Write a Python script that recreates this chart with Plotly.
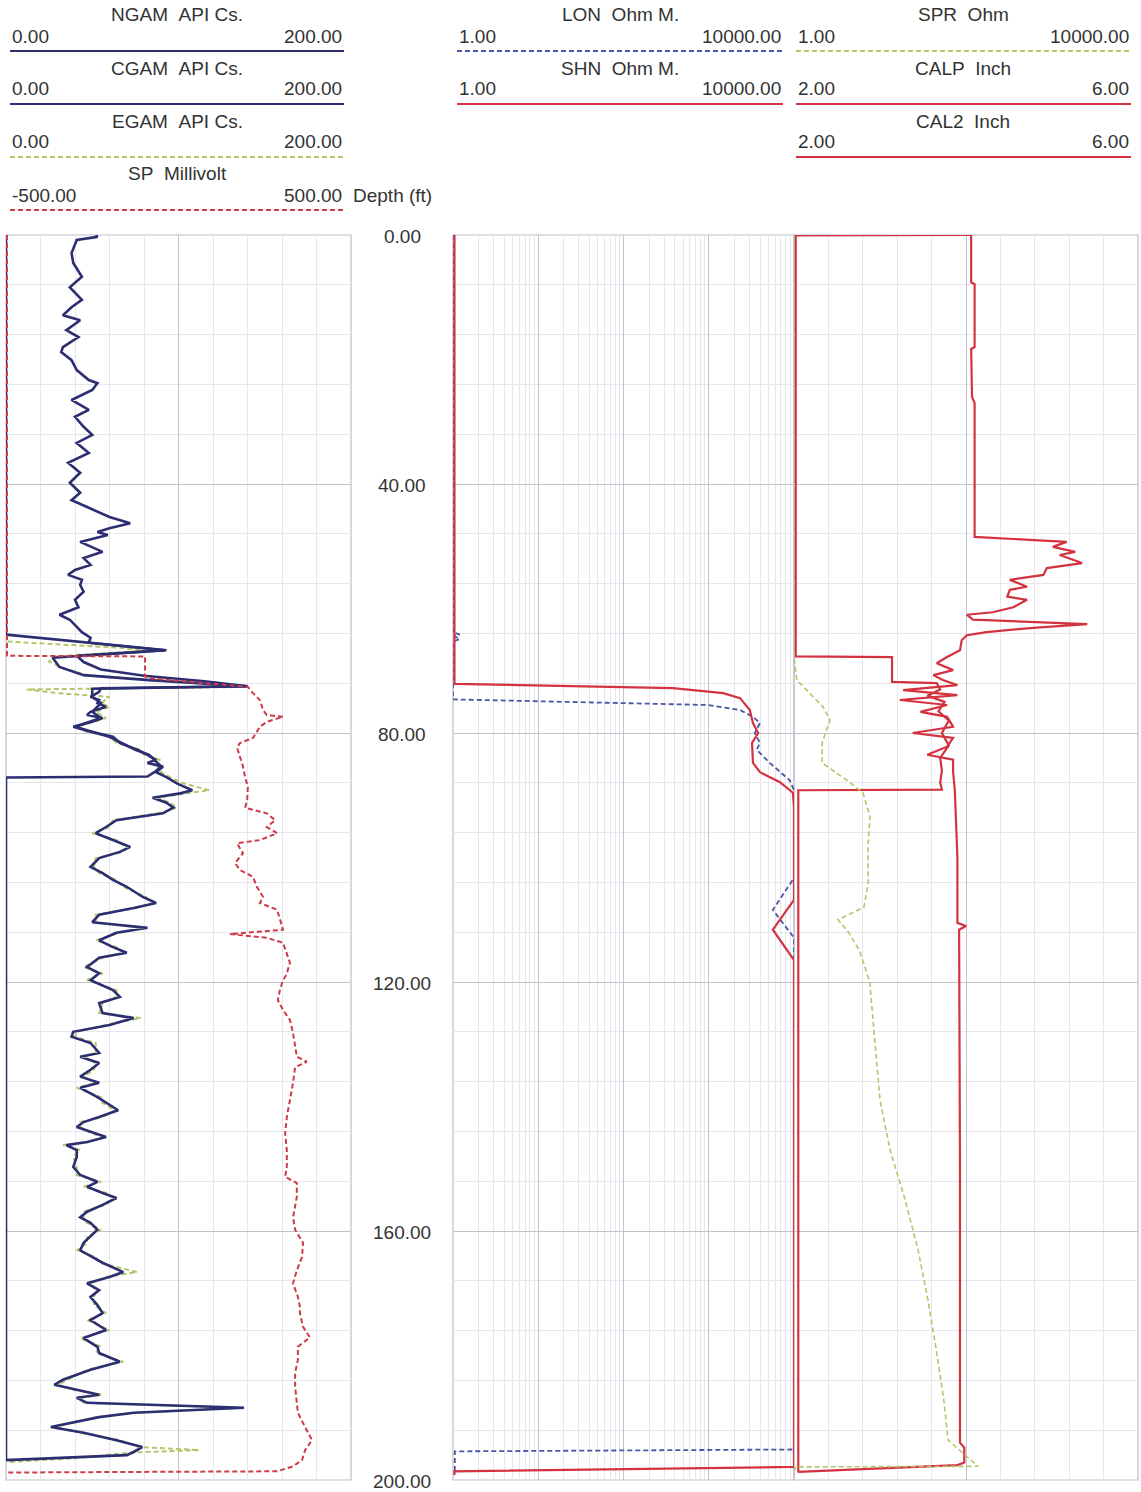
import plotly.graph_objects as go

W, H = 1141, 1492

# ---------------- data (depth ft, value) ----------------
NGAM = [(0.0,52),(0.3,53),(0.8,41),(2.9,38),(4.5,39),(6.7,44),(8.4,37),(10.4,44),(11.6,38),(12.9,33),
        (13.7,43),(15.3,35),(16.4,42),(18.0,33),(18.8,32),(20.1,38),(21.7,41),(23.3,48),(23.8,53),(24.9,50),
        (26.5,38),(28.1,48),(29.2,40),(30.8,45),(32.1,50),(33.4,41),(35.0,48),(36.6,36),(38.2,43),(39.8,37),
        (41.4,43),(42.6,38),(43.7,47),(45.3,60),(46.3,72),(47.1,60),(47.7,53),(48.2,59),(49.3,43),(50.1,50),
        (50.9,56),(51.9,45),(53.0,49),(53.8,40),(54.6,36),(55.4,44),(56.2,43),(57.3,45),(58.6,40),(59.8,42),
        (61.0,31),(61.8,37),(62.7,40),(63.8,44),(64.7,49),(65.5,48),(66.7,92),(67.6,41),(68.6,45),(69.8,55),
        (70.8,80),(71.7,115),(72.5,140),(72.8,55),(73.4,54),(74.2,49),(74.7,54),(75.2,53),(75.8,58),(76.6,49),
        (77.1,47),(77.6,56),(78.2,50),(79.0,39),(79.8,49),(80.6,62),(81.6,66),(82.7,76),(83.5,82),(84.3,87),
        (84.8,82),(85.4,91),(86.3,87),(87.1,93),(88.1,99),(89.2,108),(89.7,101),(90.4,85),(91.2,93),(92.0,97),
        (92.9,91),(94.0,64),(95.1,58),(96.1,52),(97.2,62),(98.3,72),(99.1,66),(100.1,54),(101.5,49),(102.5,56),
        (103.6,62),(104.7,70),(106.3,79),(107.3,87),(108.1,74),(109.2,54),(110.4,50),(111.3,82),(112.1,64),(113.3,54),
        (114.4,62),(115.3,70),(116.1,54),(117.6,47),(118.6,54),(119.7,49),(121.3,62),(122.4,66),(123.4,54),(125.0,56),
        (125.8,74),(126.9,60),(128.0,39),(128.8,38),(129.8,49),(131.4,54),(132.0,43),(133.0,54),(134.1,49),(135.2,43),
        (136.2,54),(137.0,43),(138.5,53),(139.4,58),(140.6,65),(141.7,54),(142.5,45),(143.3,41),(144.1,50),(144.9,58),
        (145.7,47),(146.2,35),(147.0,41),(148.1,41),(149.7,39),(151.0,43),(152.1,53),(152.9,47),(153.9,56),(154.7,64),
        (155.8,56),(156.9,47),(157.8,43),(158.7,49),(159.8,53),(160.9,49),(161.9,45),(163.1,43),(164.2,50),(165.1,56),
        (166.6,68),(167.4,60),(168.4,47),(169.5,54),(170.6,49),(171.9,53),(173.2,56),(174.3,49),(175.9,58),(177.2,45),
        (178.6,53),(179.6,54),(181.0,66),(182.3,49),(183.9,33),(184.7,28),(185.5,41),(186.3,54),(186.8,41),(187.6,47),
        (188.4,138),(189.2,74),(189.9,54),(191.5,26),(192.4,45),(193.6,64),(194.7,79),(195.5,74),(196.0,70),(196.8,0)]

CGAM = [(0.0,0),(64.2,0),(66.7,93),(67.9,27),(69.4,31),(70.7,45),(71.5,83),(72.5,140),(72.9,50),(73.4,50),
        (74.2,50),(75.2,55),(76.6,50),(77.6,55),(79.0,40),(79.8,50),(80.6,60),(81.6,67),(82.7,75),(83.5,83),
        (84.3,86),(85.4,90),(86.3,86),(87.0,82),(87.15,0),(196.8,0)]

EGAM = [(0.0,0),(65.3,0),(66.3,66),(66.8,80),(67.7,28),(68.5,25),(69.6,33),(70.7,47),(71.6,90),(72.6,140),
        (73.0,12),(73.6,30),(74.2,60),(75.2,55),(75.8,60),(76.6,52),(77.6,58),(78.2,50),(79.0,41),(79.8,47),
        (80.6,60),(81.6,64),(82.7,78),(83.5,80),(84.3,89),(85.4,88),(86.3,90),(87.1,95),(88.1,103),(89.2,118),
        (89.7,104),(90.4,88),(91.2,95),(92.0,99),(92.9,88),(94.0,62),(95.1,60),(96.1,50),(97.2,64),(98.3,70),
        (99.1,68),(100.1,52),(101.5,51),(102.5,54),(103.6,64),(104.7,68),(106.3,81),(107.3,85),(108.1,76),(109.2,52),
        (110.4,52),(111.3,80),(112.1,66),(113.3,52),(114.4,64),(115.3,68),(116.1,56),(117.6,45),(118.6,56),(119.7,47),
        (121.3,64),(122.4,64),(123.4,56),(125.0,54),(125.8,78),(126.9,58),(128.0,41),(128.8,40),(129.8,52),(131.4,52),
        (132.0,45),(133.0,52),(134.1,51),(135.2,45),(136.2,52),(137.0,41),(138.5,55),(139.4,56),(140.6,63),(141.7,56),
        (142.5,43),(143.3,43),(144.1,48),(144.9,56),(145.7,49),(146.2,33),(147.0,43),(148.1,39),(149.7,41),(151.0,41),
        (152.1,55),(152.9,45),(153.9,58),(154.7,62),(155.8,58),(156.9,45),(157.8,45),(158.7,47),(159.8,55),(160.9,47),
        (161.9,47),(163.1,41),(164.2,52),(165.1,54),(166.6,76),(167.4,58),(168.4,49),(169.5,52),(170.6,51),(171.9,51),
        (173.2,58),(174.3,47),(175.9,60),(177.2,43),(178.6,55),(179.6,52),(181.0,68),(182.3,47),(183.9,35),(184.7,30),
        (185.5,39),(186.3,56),(186.8,43),(187.6,45),(188.4,136),(189.2,76),(189.9,52),(191.5,28),(192.4,43),(193.6,66),
        (194.7,77),(195.2,112),(195.6,72),(196.5,40),(197.1,2)]

SP = [(0.0,-497),(67.6,-497),(67.7,-97),(70.9,-97),(71.2,-85),(72.6,201),(73.6,216),(74.7,236),(76.3,245),(77.1,256),
      (77.4,303),(78.2,256),(79.0,236),(79.8,227),(80.8,216),(81.6,178),(82.4,170),(83.8,178),(85.4,187),(87.1,193),
      (88.7,201),(90.8,199),(92.0,193),(92.9,256),(94.0,280),(95.1,256),(96.1,286),(97.2,236),(97.7,170),(98.5,178),
      (99.3,187),(100.9,164),(102.0,178),(103.1,216),(104.7,227),(106.3,245),(107.3,236),(108.4,286),(110.0,294),(111.6,303),
      (112.3,149),(112.9,256),(113.7,303),(115.3,314),(116.9,323),(118.6,314),(120.2,300),(121.3,294),(122.9,288),(124.5,303),
      (126.1,323),(128.2,332),(130.4,338),(132.0,343),(132.8,372),(133.7,338),(136.2,332),(139.0,323),(141.7,314),(144.3,309),
      (147.0,314),(149.7,314),(151.3,309),(152.3,343),(154.5,343),(157.8,332),(159.8,338),(161.9,361),(164.2,358),(166.3,343),
      (168.4,332),(170.6,346),(172.2,352),(173.2,352),(175.4,361),(177.1,381),(178.6,346),(180.7,346),(182.8,338),(185.0,338),
      (187.1,343),(189.2,346),(191.5,367),(193.6,387),(195.2,367),(196.8,358),(197.8,332),(198.6,286),(198.8,-497)]

LON = [(0.0,1.0),(63.8,1.0),(64.2,1.2),(64.5,1.05),(64.9,1.2),(65.3,1.0),(74.6,1.0),(75.5,955),(76.3,2330),(77.4,3300),
       (78.4,3990),(80.0,3470),(81.6,3990),(82.7,3650),(84.8,5200),(87.6,8900),(89.2,10000),(103.3,10000),(108.4,5650),(112.9,10000),
       (195.1,10000),(195.4,1.05),(198.8,1.05)]

SHN = [(0.0,1.04),(72.1,1.04),(72.8,380),(73.6,1475),(74.4,2330),(76.3,3030),(78.4,3300),(80.0,3800),(81.6,3220),(84.8,3300),
       (86.3,3990),(87.9,6840),(89.6,9700),(91.9,10000),(106.8,10000),(111.6,5650),(116.5,10000),(197.9,10000),(198.6,1.04),(199.2,1.04)]

SPR = [(0.0,1.0),(67.6,1.0),(67.8,1.0),(71.5,1.08),(73.5,1.5),(75.8,2.17),(77.9,2.62),(79.5,2.4),(81.6,2.12),(84.8,2.12),
       (86.5,3.2),(87.6,4.14),(89.6,6.35),(93.5,7.66),(98.3,7.24),(104.0,7.3),(108.0,6.5),(110.0,3.25),(112.0,4.3),(115.0,5.8),
       (120.0,7.6),(127.7,8.5),(139.0,10.0),(147.0,13.1),(155.0,19.6),(163.0,27.7),(171.0,36.0),(179.0,45.0),(187.0,55.0),
       (193.6,62.0),(196.0,97.0),(197.8,138.0),(197.9,1.03),(198.4,1.03)]

CALP = [(0.0,4.06),(7.6,4.06),(7.9,4.10),(18.0,4.10),(18.3,4.06),(26.0,4.07),(27.0,4.10),(48.5,4.10),(49.3,5.17),(50.1,5.01),
        (50.9,5.27),(51.4,5.09),(52.7,5.35),(53.5,4.94),(54.6,4.90),(55.4,4.51),(56.5,4.71),(57.0,4.51),(58.1,4.48),(58.6,4.71),
        (59.8,4.55),(60.6,4.31),(61.0,4.01),(61.8,4.08),(62.5,5.41),(63.1,4.78),(63.8,4.24),(64.3,4.01),(65.1,3.95),(66.7,3.93),
        (67.8,3.78),(68.8,3.66),(69.9,3.85),(70.7,3.62),(71.5,3.73),(72.3,3.90),(73.1,3.27),(73.9,3.90),(74.7,3.23),(75.5,3.78),
        (76.6,3.47),(77.4,3.78),(79.0,3.85),(80.0,3.38),(80.8,3.85),(82.2,3.78),(83.5,3.55),(84.3,3.85),(86.3,3.85),(89.2,3.87),
        (100.0,3.90),(110.5,3.90),(111.0,4.00),(111.6,3.92),(150.0,3.93),(194.0,3.93),(194.8,3.98),(197.2,3.98),(197.6,3.90),(198.7,2.05)]

CAL2 = [(0.0,4.06),(0.05,2.02),(67.7,2.02),(67.8,3.14),(71.8,3.14),(72.0,3.66),(73.0,3.70),(74.0,3.55),(75.0,3.75),(76.5,3.68),
        (78.0,3.80),(80.0,3.72),(82.0,3.80),(84.0,3.70),(86.0,3.72),(88.0,3.70),(89.1,3.72),(89.2,2.05),(198.8,2.05)]

DEPTH_TICKS = [0, 40, 80, 120, 160, 200]

T1_NAMES = ["NGAM", "CGAM", "EGAM", "SP"]
T1_UNITS = ["API Cs.", "API Cs.", "API Cs.", "Millivolt"]
T1_MIN = [0, 0, 0, -500]
T1_MAX = [200, 200, 200, 500]

T3_NAMES = ["LON", "SHN"]
T3_UNITS = ["Ohm M.", "Ohm M."]
T3_MIN = [1, 1]
T3_MAX = [10000, 10000]

T4_NAMES = ["SPR", "CALP", "CAL2"]
T4_UNITS = ["Ohm", "Inch", "Inch"]
T4_MIN = [1, 2, 2]
T4_MAX = [10000, 6, 6]

# ---------------- styles ----------------
NAVY = "#2c2e72"
GREEN = "#b2c66a"
RED_D = "#cf3a48"
RED = "#d4323f"
BLUE = "#4a56a6"
TXT = "#333333"
GMAJ = "#c3c3cc"
GMIN = "#e6e6ec"
FRAME = "#bdbdc7"
DASH = "5px,3px"
FS = 19

STYLE = {
    "NGAM": dict(color=NAVY, width=2.6, dash="solid"),
    "CGAM": dict(color=NAVY, width=2.6, dash="solid"),
    "EGAM": dict(color=GREEN, width=2.0, dash=DASH),
    "SP":   dict(color=RED_D, width=2.0, dash=DASH),
    "LON":  dict(color=BLUE, width=1.8, dash=DASH),
    "SHN":  dict(color=RED, width=2.2, dash="solid"),
    "SPR":  dict(color=GREEN, width=1.6, dash=DASH),
    "CALP": dict(color=RED, width=2.2, dash="solid"),
    "CAL2": dict(color=RED, width=2.2, dash="solid"),
}

def px(p):
    return p / W

def py(p):
    return 1 - p / H

T1_DOM = [px(6), px(351)]
T3_DOM = [px(453), px(794)]
T4_DOM = [px(794), px(1138)]
Y_DOM = [py(1480), py(235)]

fig = go.Figure()

def add(name, data, xa):
    d = [p[0] for p in data]
    v = [p[1] for p in data]
    fig.add_trace(go.Scatter(x=v, y=d, mode="lines", name=name, xaxis=xa, yaxis="y",
                             line=STYLE[name], showlegend=False, hoverinfo="skip"))

add("EGAM", EGAM, "x")
add("CGAM", CGAM, "x")
add("NGAM", NGAM, "x")
add("SP", SP, "x2")
add("LON", LON, "x3")
add("SHN", SHN, "x3")
add("SPR", SPR, "x5")
add("CAL2", CAL2, "x4")
add("CALP", CALP, "x4")

common = dict(showticklabels=False, ticks="", zeroline=False, showline=False)

fig.update_layout(
    width=W, height=H, margin=dict(l=0, r=0, t=0, b=0),
    paper_bgcolor="white", plot_bgcolor="white",
    font=dict(family="Liberation Sans, Arial, sans-serif", size=FS, color=TXT),
    hovermode=False,
    xaxis=dict(domain=T1_DOM, range=[0, 200], anchor="y", showgrid=True, dtick=100,
               gridcolor=GMAJ, gridwidth=1,
               minor=dict(dtick=20, showgrid=True, gridcolor=GMIN, gridwidth=1), **common),
    xaxis2=dict(overlaying="x", range=[-500, 500], anchor="y", showgrid=False, **common),
    xaxis3=dict(domain=T3_DOM, type="log", range=[0, 4], anchor="y", showgrid=True, dtick=1,
                gridcolor=GMAJ, gridwidth=1,
                minor=dict(dtick="D1", showgrid=True, gridcolor=GMIN, gridwidth=1), **common),
    xaxis4=dict(domain=T4_DOM, range=[2, 6], anchor="y", showgrid=True, dtick=2,
                gridcolor=GMAJ, gridwidth=1,
                minor=dict(dtick=0.4, showgrid=True, gridcolor=GMIN, gridwidth=1), **common),
    xaxis5=dict(overlaying="x4", type="log", range=[0, 4], anchor="y", showgrid=False, **common),
    yaxis=dict(domain=Y_DOM, range=[200, 0], anchor="x", showgrid=True, dtick=40,
               gridcolor=GMAJ, gridwidth=1,
               minor=dict(dtick=8, showgrid=True, gridcolor=GMIN, gridwidth=1), **common),
)

# track frames
for ref in ["x domain", "x3 domain", "x4 domain"]:
    fig.add_shape(type="rect", xref=ref, yref="y domain", x0=0, x1=1, y0=0, y1=1,
                  line=dict(color=FRAME, width=1.2), layer="below")

annotations = []
# depth labels
for d in DEPTH_TICKS:
    annotations.append(dict(x=px(402), xref="paper", y=d, yref="y", text=f"{d:.2f}",
                            showarrow=False, xanchor="center", yanchor="middle", yshift=-1,
                            font=dict(size=FS, color=TXT)))
annotations.append(dict(x=px(351), xref="paper", y=py(196), yref="paper", text="Depth (ft)",
                        showarrow=False, xanchor="left", yanchor="middle",
                        font=dict(size=FS, color=TXT)))

def header(names, units, mins, maxs, x0, x1, row0=0):
    for i, (n, u, lo, hi) in enumerate(zip(names, units, mins, maxs)):
        r = row0 + i
        ytitle = 15 + 53 * r
        yval = 36 + 53 * r
        yline = 51 + 53 * r
        annotations.append(dict(x=px((x0 + x1) / 2), y=py(ytitle), xref="paper", yref="paper",
                                text=f"{n}\u00a0\u00a0{u}", showarrow=False,
                                xanchor="center", yanchor="middle", font=dict(size=FS, color=TXT)))
        annotations.append(dict(x=px(x0), y=py(yval), xref="paper", yref="paper",
                                text=f"{lo:.2f}", showarrow=False,
                                xanchor="left", yanchor="middle", font=dict(size=FS, color=TXT)))
        annotations.append(dict(x=px(x1), y=py(yval), xref="paper", yref="paper",
                                text=f"{hi:.2f}", showarrow=False,
                                xanchor="right", yanchor="middle", font=dict(size=FS, color=TXT)))
        st = STYLE[n]
        fig.add_shape(type="line", xref="paper", yref="paper",
                      x0=px(x0), x1=px(x1), y0=py(yline), y1=py(yline),
                      line=dict(color=st["color"], width=2.2, dash=st["dash"]))

header(T1_NAMES, T1_UNITS, T1_MIN, T1_MAX, 10, 344)
header(T3_NAMES, T3_UNITS, T3_MIN, T3_MAX, 457, 783)
header(T4_NAMES, T4_UNITS, T4_MIN, T4_MAX, 796, 1131)

fig.update_layout(annotations=annotations)

fig.write_html("out.html", config={"displayModeBar": False, "staticPlot": True},
               post_script="document.body.style.margin='0';document.body.style.overflow='hidden';")
